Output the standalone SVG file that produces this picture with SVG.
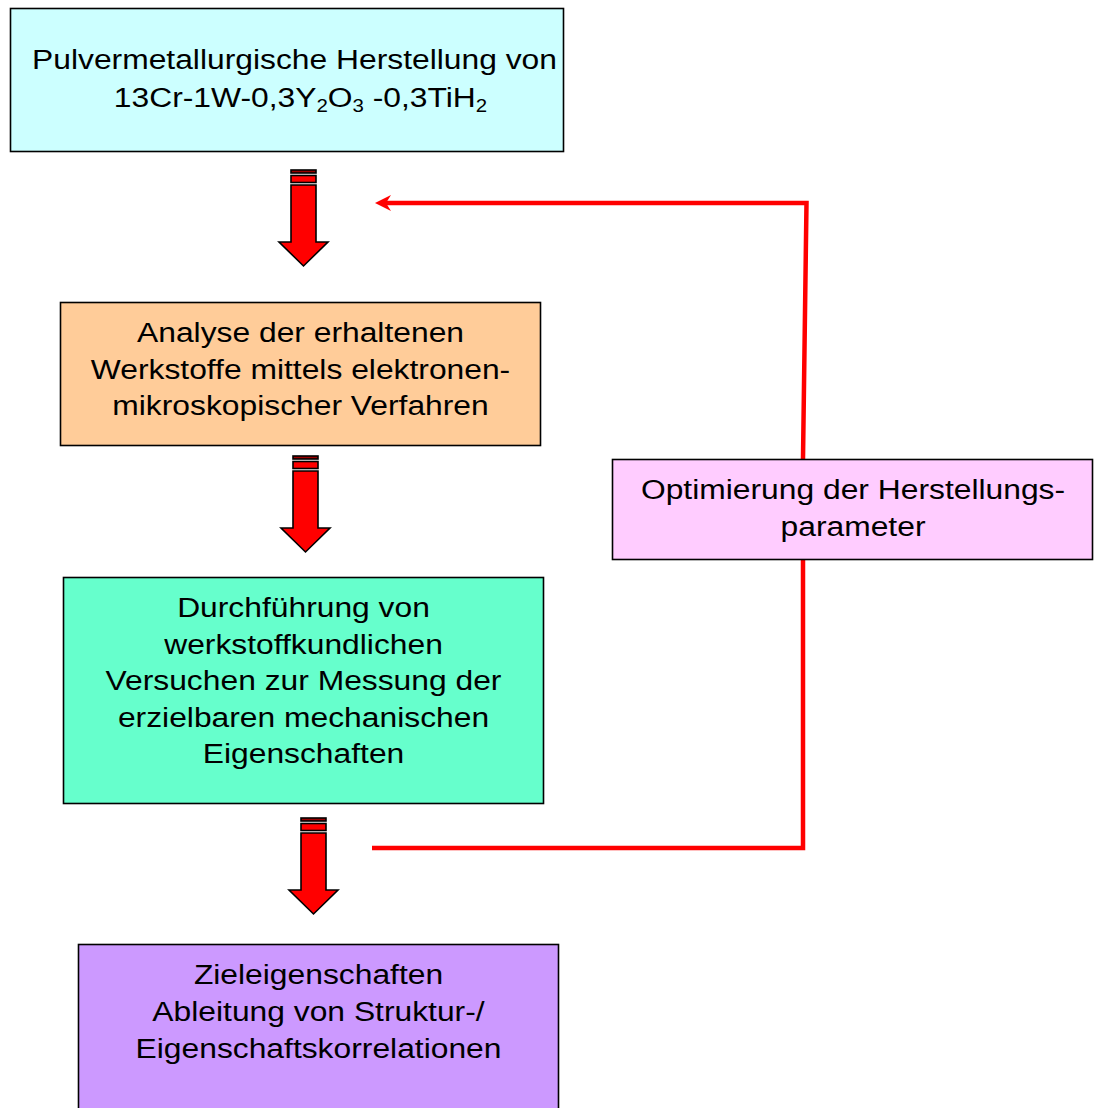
<svg xmlns="http://www.w3.org/2000/svg" width="1100" height="1108" viewBox="0 0 1100 1108">
<style>
.box{stroke:#000;stroke-width:1.6}
.t{font-family:"Liberation Sans",Arial,sans-serif;font-size:28px;fill:#000;text-anchor:middle}
.sub{font-size:18px}
.blk{stroke:#000;stroke-width:1.6}
.fb{fill:none;stroke:#FF0000;stroke-width:4.5;stroke-linejoin:miter}
</style>
<defs>
<g id="blockArrow">
<rect class="blk" x="-12.5" y="0" width="25" height="3" fill="#990000"/>
<rect class="blk" x="-12.5" y="5.5" width="25" height="7" fill="#FF0000"/>
<path class="blk" d="M-12.5 15 H12.5 V72 H24.5 L0 96 L-24.5 72 H-12.5 Z" fill="#FF0000"/>
</g>
<marker id="stealth" viewBox="0 0 16 16" refX="6" refY="8" markerWidth="16" markerHeight="16" markerUnits="userSpaceOnUse" orient="auto">
<path d="M0,0 L16,8 L0,16 L5,8 Z" fill="#FF0000"/>
</marker>
</defs>

<g id="connectors">
<use href="#blockArrow" transform="translate(303.5,170)"/>
<use href="#blockArrow" transform="translate(305.5,456)"/>
<use href="#blockArrow" transform="translate(313.5,818)"/>
<path class="fb" d="M803 459 L806.5 203 L385 203" marker-end="url(#stealth)"/>
<path class="fb" d="M372 848 L803 848 L803 559"/>
</g>

<g id="node-herstellung">
<rect class="box" x="10.5" y="8.5" width="553" height="143" fill="#CCFFFF"/>
<text class="t" transform="translate(294.5,0) scale(1.136,1)" x="0" y="69">Pulvermetallurgische Herstellung von</text>
<text class="t" transform="translate(300.5,0) scale(1.136,1)" x="0" y="107">13Cr-1W-0,3Y<tspan class="sub" dy="5">2</tspan><tspan dy="-5">O</tspan><tspan class="sub" dy="5">3</tspan><tspan dy="-5"> -0,3TiH</tspan><tspan class="sub" dy="5">2</tspan></text>
</g>

<g id="node-analyse">
<rect class="box" x="60.5" y="302.5" width="480" height="143" fill="#FFCC99"/>
<text class="t" transform="translate(300.5,0) scale(1.136,1)" x="0" y="342">Analyse der erhaltenen</text>
<text class="t" transform="translate(300.5,0) scale(1.136,1)" x="0" y="379">Werkstoffe mittels elektronen-</text>
<text class="t" transform="translate(300.5,0) scale(1.136,1)" x="0" y="415">mikroskopischer Verfahren</text>
</g>

<g id="node-versuche">
<rect class="box" x="63.5" y="577.5" width="480" height="226" fill="#66FFCC"/>
<text class="t" transform="translate(303.5,0) scale(1.136,1)" x="0" y="617">Durchführung von</text>
<text class="t" transform="translate(303.5,0) scale(1.136,1)" x="0" y="654">werkstoffkundlichen</text>
<text class="t" transform="translate(303.5,0) scale(1.136,1)" x="0" y="690">Versuchen zur Messung der</text>
<text class="t" transform="translate(303.5,0) scale(1.136,1)" x="0" y="727">erzielbaren mechanischen</text>
<text class="t" transform="translate(303.5,0) scale(1.136,1)" x="0" y="763">Eigenschaften</text>
</g>

<g id="node-ziel">
<rect class="box" x="78.5" y="944.5" width="480" height="200" fill="#CC99FF"/>
<text class="t" transform="translate(318.5,0) scale(1.136,1)" x="0" y="984">Zieleigenschaften</text>
<text class="t" transform="translate(318.5,0) scale(1.136,1)" x="0" y="1021">Ableitung von Struktur-/</text>
<text class="t" transform="translate(318.5,0) scale(1.136,1)" x="0" y="1058">Eigenschaftskorrelationen</text>
</g>

<g id="node-optimierung">
<rect class="box" x="612.5" y="459.5" width="480" height="100" fill="#FFCCFF"/>
<text class="t" transform="translate(853,0) scale(1.136,1)" x="0" y="499">Optimierung der Herstellungs-</text>
<text class="t" transform="translate(853,0) scale(1.136,1)" x="0" y="536">parameter</text>
</g>
</svg>
